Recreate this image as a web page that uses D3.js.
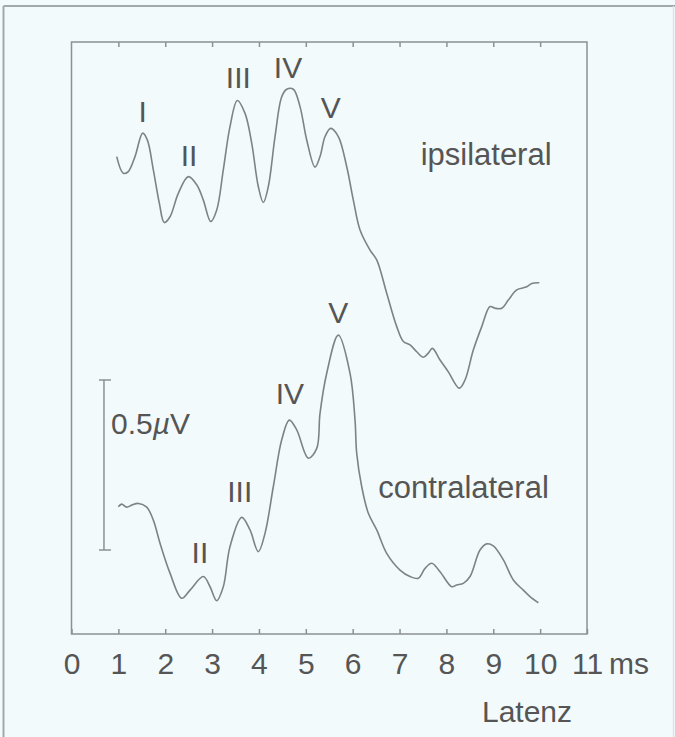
<!DOCTYPE html>
<html>
<head>
<meta charset="utf-8">
<script src="https://cdn.jsdelivr.net/npm/d3@7"></script>
<style>
  html, body { margin: 0; padding: 0; background: #f2fafb; }
  svg { display: block; }
  text { font-family: "Liberation Sans", Arial, Helvetica, sans-serif; fill: #555; }
</style>
</head>
<body>
<div id="chart"></div>
<script>
// latency (ms) and amplitude (µV, measured from the bottom of the frame)
var ipsiTime = [0.965, 1.105, 1.212, 1.355, 1.519, 1.618, 1.746, 1.874, 1.980, 2.102,
  2.279, 2.493, 2.672, 2.813, 2.971, 3.099, 3.239, 3.382, 3.538, 3.703,
  3.846, 3.986, 4.093, 4.200, 4.343, 4.486, 4.592, 4.733, 4.876, 5.019,
  5.196, 5.303, 5.410, 5.531, 5.694, 5.873, 6.014, 6.157, 6.370, 6.513,
  6.726, 6.940, 7.081, 7.224, 7.367, 7.507, 7.614, 7.700, 7.864, 8.041,
  8.276, 8.397, 8.574, 8.754, 8.931, 9.038, 9.181, 9.321, 9.501, 9.714,
  9.821, 9.983];
var ipsiAmp = [1.404, 1.355, 1.360, 1.404, 1.473, 1.453, 1.365, 1.267, 1.210, 1.227,
  1.296, 1.345, 1.321, 1.276, 1.213, 1.247, 1.365, 1.492, 1.569, 1.531,
  1.443, 1.316, 1.269, 1.316, 1.463, 1.580, 1.602, 1.602, 1.551, 1.453,
  1.373, 1.404, 1.463, 1.487, 1.463, 1.374, 1.276, 1.188, 1.129, 1.100,
  1.002, 0.904, 0.860, 0.850, 0.830, 0.814, 0.826, 0.840, 0.806, 0.771,
  0.723, 0.747, 0.835, 0.904, 0.963, 0.958, 0.958, 0.982, 1.012, 1.021,
  1.031, 1.033];

var contraTime = [0.999, 1.071, 1.178, 1.285, 1.426, 1.605, 1.746, 1.889, 2.102, 2.352,
  2.529, 2.813, 2.956, 3.099, 3.239, 3.382, 3.632, 3.809, 3.986, 4.129,
  4.306, 4.486, 4.648, 4.806, 5.053, 5.233, 5.303, 5.446, 5.694, 5.943,
  6.050, 6.086, 6.193, 6.334, 6.513, 6.726, 7.010, 7.224, 7.401, 7.544,
  7.687, 7.864, 8.114, 8.220, 8.361, 8.504, 8.717, 8.860, 9.001, 9.215,
  9.428, 9.641, 9.784, 9.962];
var contraAmp = [0.374, 0.382, 0.373, 0.379, 0.384, 0.373, 0.335, 0.267, 0.179, 0.105,
  0.129, 0.169, 0.139, 0.098, 0.139, 0.257, 0.343, 0.306, 0.242, 0.296,
  0.433, 0.571, 0.629, 0.600, 0.517, 0.546, 0.649, 0.767, 0.879, 0.767,
  0.629, 0.531, 0.433, 0.355, 0.306, 0.237, 0.188, 0.169, 0.164, 0.193,
  0.208, 0.183, 0.139, 0.144, 0.149, 0.169, 0.247, 0.265, 0.259, 0.218,
  0.159, 0.129, 0.110, 0.092];

// wave labels: name, latency, amplitude of label baseline
var ipsiWaves = ["I", "II", "III", "IV", "V"];
var ipsiWaveTime = [1.52, 2.51, 3.56, 4.62, 5.53];
var ipsiWaveAmp = [1.507, 1.376, 1.606, 1.634, 1.517];
var contraWaves = ["II", "III", "IV", "V"];
var contraWaveTime = [2.74, 3.59, 4.66, 5.69];
var contraWaveAmp = [0.210, 0.389, 0.677, 0.916];

var xTicks = [0, 1, 2, 3, 4, 5, 6, 7, 8, 9, 10, 11];
var scaleBar = [0.247, 0.747]; // 0.5 µV

var W = 675, H = 737;
var margin = { top: 42, right: 88, bottom: 103, left: 71.5 };

var svg = d3.select("#chart").append("svg")
  .attr("width", W)
  .attr("height", H);

// outer frame of the figure (top and left edges show, right one is faint)
svg.append("line")
  .attr("x1", 3.5).attr("x2", W).attr("y1", 6).attr("y2", 6)
  .attr("stroke", "#a3a9ab").attr("stroke-width", 2);
svg.append("line")
  .attr("x1", 3.5).attr("x2", 3.5).attr("y1", 6).attr("y2", H)
  .attr("stroke", "#a3a9ab").attr("stroke-width", 2);
svg.append("line")
  .attr("x1", 673.5).attr("x2", 673.5).attr("y1", 6).attr("y2", H)
  .attr("stroke", "#dde5e7").attr("stroke-width", 1.5);

var x = d3.scaleLinear().domain([0, 11]).range([margin.left, W - margin.right]);
var y = d3.scaleLinear().domain([0, 1.741]).range([H - margin.bottom, margin.top]);

// plot frame
svg.append("rect")
  .attr("x", x(0)).attr("y", y(1.741))
  .attr("width", x(11) - x(0)).attr("height", y(0) - y(1.741))
  .attr("fill", "none")
  .attr("stroke", "#8c9193")
  .attr("stroke-width", 1.5);

var bottomAxis = svg.append("g")
  .attr("transform", "translate(0," + y(0) + ")")
  .call(d3.axisBottom(x).tickValues(xTicks).tickSize(-5).tickSizeOuter(0).tickPadding(19));
bottomAxis.select(".domain").remove();
bottomAxis.selectAll("line").attr("stroke", "#8c9193").attr("stroke-width", 1.5);
bottomAxis.selectAll("text")
  .style("font-size", "30px")
  .style("font-family", "'Liberation Sans', Arial, sans-serif")
  .attr("fill", "#555");

var topAxis = svg.append("g")
  .attr("transform", "translate(0," + y(1.741) + ")")
  .call(d3.axisTop(x).tickValues(xTicks.slice(1, -1)).tickSize(-5).tickSizeOuter(0).tickFormat(""));
topAxis.select(".domain").remove();
topAxis.selectAll("line").attr("stroke", "#8c9193").attr("stroke-width", 1.5);

svg.append("text")
  .attr("x", x(11) + 22)
  .attr("y", y(0) + 19 + 21.3)
  .style("font-size", "30px")
  .text("ms");

svg.append("text")
  .attr("x", x(9.72))
  .attr("y", y(0) + 88)
  .attr("text-anchor", "middle")
  .style("font-size", "30px")
  .text("Latenz");

// traces
var line = d3.line()
  .x(function (d) { return x(d[0]); })
  .y(function (d) { return y(d[1]); })
  .curve(d3.curveCatmullRom.alpha(0.5));

[[ipsiTime, ipsiAmp], [contraTime, contraAmp]].forEach(function (s) {
  svg.append("path")
    .datum(d3.zip(s[0], s[1]))
    .attr("d", line)
    .attr("fill", "none")
    .attr("stroke", "#7d8385")
    .attr("stroke-width", 1.6)
    .attr("stroke-linejoin", "round");
});

// wave labels
function waveLabels(names, t, a) {
  svg.selectAll(null)
    .data(names)
    .enter()
    .append("text")
    .attr("x", function (d, i) { return x(t[i]); })
    .attr("y", function (d, i) { return y(a[i]); })
    .attr("text-anchor", "middle")
    .style("font-size", "30px")
    .text(function (d) { return d; });
}
waveLabels(ipsiWaves, ipsiWaveTime, ipsiWaveAmp);
waveLabels(contraWaves, contraWaveTime, contraWaveAmp);

svg.append("text")
  .attr("x", x(7.45)).attr("y", y(1.379))
  .style("font-size", "31px")
  .text("ipsilateral");

svg.append("text")
  .attr("x", x(6.545)).attr("y", y(0.399))
  .style("font-size", "31px")
  .text("contralateral");

// calibration bar
var barX = x(0.693);
svg.append("line")
  .attr("x1", barX).attr("x2", barX)
  .attr("y1", y(scaleBar[0])).attr("y2", y(scaleBar[1]))
  .attr("stroke", "#8c9193").attr("stroke-width", 1.5);
scaleBar.forEach(function (v) {
  svg.append("line")
    .attr("x1", barX - 5).attr("x2", barX + 7)
    .attr("y1", y(v)).attr("y2", y(v))
    .attr("stroke", "#8c9193").attr("stroke-width", 1.5);
});

var cal = svg.append("text")
  .attr("x", barX + 7).attr("y", y(0.589))
  .style("font-size", "30px");
cal.append("tspan").text("0.5");
cal.append("tspan").style("font-style", "italic").text("µ");
cal.append("tspan").text("V");
</script>
</body>
</html>
